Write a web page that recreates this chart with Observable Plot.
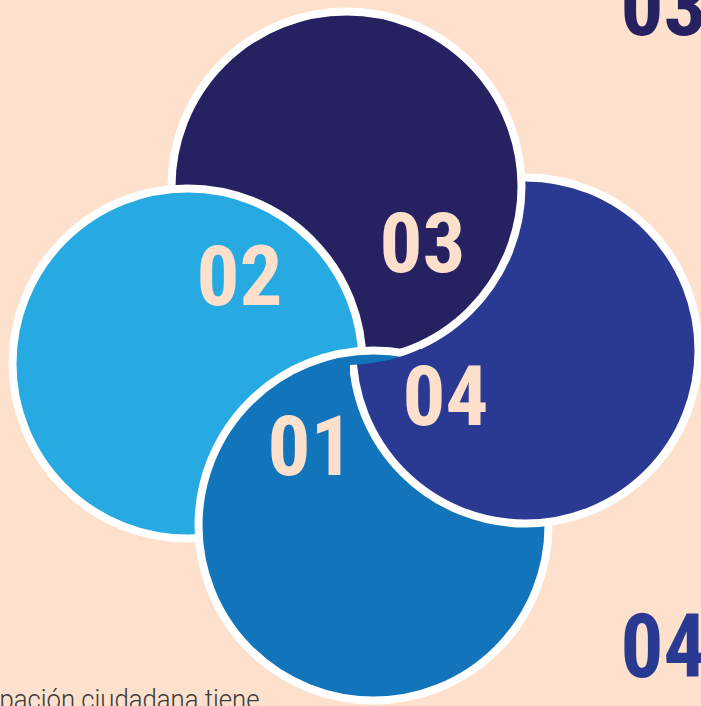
<!DOCTYPE html>
<html><head><meta charset="utf-8">
<script src="https://cdn.jsdelivr.net/npm/d3@7"></script>
<script src="https://cdn.jsdelivr.net/npm/@observablehq/plot@0.6"></script>
<style>
html,body{margin:0;padding:0;background:#fde1cc;overflow:hidden;}
#chart svg{display:block;}
</style></head><body><div id="chart"></div>
<script>
// circle steps and their centres (in the 701x706 picture space)
const steps = ["01", "02", "03", "04"];
const centerX = [373, 187, 346, 525];
const centerY = [525, 363, 186, 350];
const radius = [175, 175, 175, 173];
// label positions (visual centre of the digits)
const labelX = [310, 239, 422, 445];
const labelY = [445, 275, 242, 395];
// partially visible neighbouring labels
const cornerLabels = ["03", "04"];
const cornerX = [620, 620];
const cornerY = [5, 645];
const captionText = ["pación ciudadana tiene"];

const palette = {"01": "#1275bb", "02": "#27aae1", "03": "#262262", "04": "#2a3a92"};
const bg = "#fde1cc";
const digitFont = "'Liberation Sans Narrow','Roboto Condensed','DejaVu Sans Condensed','Liberation Sans',sans-serif";

const circles = steps.map((s, i) => ({step: s, x: centerX[i], y: centerY[i], r: radius[i]}));
const byStep = s => circles.find(c => c.step === s);
const order = ["04", "03", "02", "01"].map(byStep);
const labels = steps.map((s, i) => ({text: s, x: labelX[i], y: labelY[i]}));
const corners = cornerLabels.map((s, i) => ({text: s, x: cornerX[i], y: cornerY[i]}));
const caption = captionText.map(t => ({text: t, x: -1, y: 700}));

const circleMark = c => Plot.dot([c], {x: "x", y: "y", r: c.r, fill: palette[c.step], stroke: "white", strokeWidth: 8});

const chart = Plot.plot({
  width: 701, height: 706, margin: 0,
  x: {domain: [0, 701], range: [0, 701], axis: null},
  y: {domain: [0, 706], range: [0, 706], axis: null},
  style: {background: bg, overflow: "hidden"},
  marks: [
    ...order.map(circleMark),
    circleMark(byStep("04")), // redrawn on top of 01 (clipped below)
    Plot.text(labels, {x: "x", y: "y", text: "text", dy: 3, fill: "#fde0cc", fontSize: 84, fontWeight: "bold", fontFamily: digitFont, textAnchor: "middle"}),
    Plot.text([corners[0]], {x: "x", y: "y", text: "text", dy: 3, fill: palette["03"], fontSize: 84, fontWeight: "bold", fontFamily: digitFont, textAnchor: "start"}),
    Plot.text([corners[1]], {x: "x", y: "y", text: "text", dy: 3, fill: palette["04"], fontSize: 89, fontWeight: "bold", fontFamily: digitFont, textAnchor: "start"}),
    Plot.text(caption, {x: "x", y: "y", text: "text", fill: "#3a3a3a", fontSize: 28, fontWeight: 300, fontFamily: "Roboto, 'Liberation Sans', sans-serif", textAnchor: "start"})
  ]
});

// pinwheel: clip the redrawn 04 disc to the lower-right area, outside the 03 disc
const ns = "http://www.w3.org/2000/svg";
const sx = chart.scale("x"), sy = chart.scale("y");
const defs = document.createElementNS(ns, "defs");
const cpA = document.createElementNS(ns, "clipPath"); cpA.setAttribute("id", "clipQuad");
const rect = document.createElementNS(ns, "rect");
rect.setAttribute("x", sx.apply(350)); rect.setAttribute("y", sy.apply(349));
rect.setAttribute("width", 500); rect.setAttribute("height", 500);
cpA.appendChild(rect);
const c3 = byStep("03");
const R = c3.r + 4, X = sx.apply(c3.x), Y = sy.apply(c3.y);
const cpB = document.createElementNS(ns, "clipPath"); cpB.setAttribute("id", "clipOut03");
const p = document.createElementNS(ns, "path");
p.setAttribute("d", `M-20,-20H730V730H-20Z M${X + R},${Y} A${R},${R} 0 1 0 ${X - R},${Y} A${R},${R} 0 1 0 ${X + R},${Y} Z`);
p.setAttribute("clip-rule", "evenodd");
cpB.appendChild(p);
defs.appendChild(cpA); defs.appendChild(cpB);
chart.insertBefore(defs, chart.firstChild);
const dots = chart.querySelectorAll('g[aria-label="dot"]');
const redo = dots[dots.length - 1];
const outer = document.createElementNS(ns, "g"); outer.setAttribute("clip-path", "url(#clipQuad)");
const inner = document.createElementNS(ns, "g"); inner.setAttribute("clip-path", "url(#clipOut03)");
redo.parentNode.insertBefore(outer, redo);
outer.appendChild(inner); inner.appendChild(redo);

// fit digit widths
const texts = chart.querySelectorAll('g[aria-label="text"]');
texts[0].querySelectorAll("text").forEach(t => { t.setAttribute("textLength", 86); t.setAttribute("lengthAdjust", "spacingAndGlyphs"); });
texts[1].querySelectorAll("text").forEach(t => { t.setAttribute("textLength", 86); t.setAttribute("lengthAdjust", "spacingAndGlyphs"); });
texts[2].querySelectorAll("text").forEach(t => { t.setAttribute("textLength", 86); t.setAttribute("lengthAdjust", "spacingAndGlyphs"); });
texts[3].querySelectorAll("text").forEach(t => { t.setAttribute("textLength", 260); t.setAttribute("lengthAdjust", "spacingAndGlyphs"); });

document.getElementById("chart").appendChild(chart);
</script></body></html>
